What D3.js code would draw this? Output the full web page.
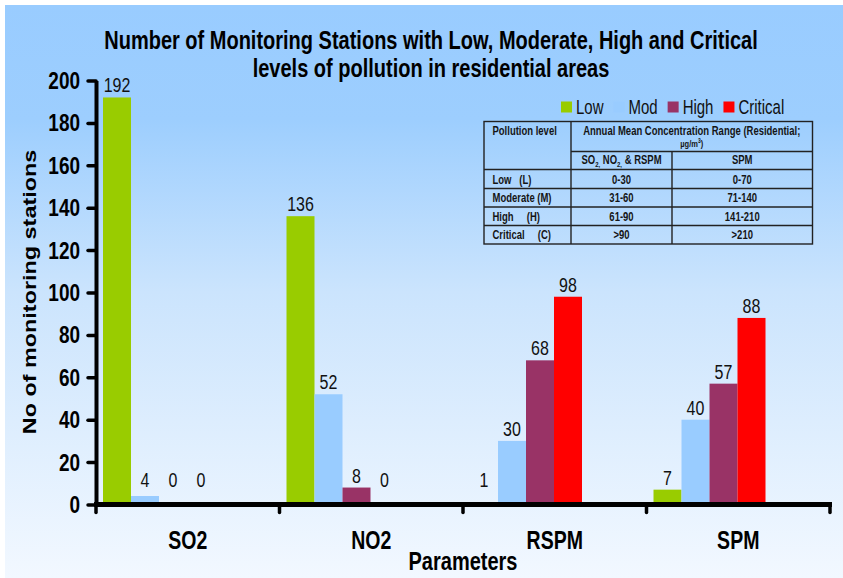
<!DOCTYPE html>
<html>
<head>
<meta charset="utf-8">
<script src="https://cdn.jsdelivr.net/npm/d3@7"></script>
<style>
  html, body { margin: 0; padding: 0; background: #fff; }
  svg { display: block; font-family: "Liberation Sans", Arial, sans-serif; }
</style>
</head>
<body>
<svg id="chart" width="843" height="578"></svg>
<script>
// chart data
const parameters = ["SO2", "NO2", "RSPM", "SPM"];
const levels = ["Low", "Mod", "High", "Critical"];
const lowValues = [192, 136, 1, 7];
const modValues = [4, 52, 30, 40];
const highValues = [0, 8, 68, 57];
const criticalValues = [0, 0, 98, 88];
const yTicks = [0, 20, 40, 60, 80, 100, 120, 140, 160, 180, 200];

// reference table
const tableLevels = ["Low   (L)", "Moderate (M)", "High     (H)", "Critical     (C)"];
const rangeGases = ["0-30", "31-60", "61-90", ">90"];
const rangeSpm = ["0-70", "71-140", "141-210", ">210"];

const colors = ["#99cc00", "#99ccff", "#993366", "#ff0000"];
const SY = 1.3; // the original picture is stretched vertically

const svg = d3.select("#chart");

// background
const defs = svg.append("defs");
const grad = defs.append("linearGradient")
  .attr("id", "bg")
  .attr("x1", 0).attr("y1", 0).attr("x2", 0).attr("y2", 1);
grad.append("stop").attr("offset", "0%").attr("stop-color", "#99ccff");
grad.append("stop").attr("offset", "20%").attr("stop-color", "#9dcefe");
grad.append("stop").attr("offset", "50%").attr("stop-color", "#cbe4fd");
grad.append("stop").attr("offset", "100%").attr("stop-color", "#f2f8ff");

svg.append("rect").attr("width", 843).attr("height", 578).attr("fill", "#fff");
svg.append("rect")
  .attr("x", 5).attr("y", 5)
  .attr("width", 838).attr("height", 573)
  .attr("fill", "url(#bg)");

function stretchedText(parent, x, y, str) {
  return parent.append("text")
    .attr("transform", `translate(${x},${y}) scale(1,${SY})`)
    .text(str);
}

// title
["Number of Monitoring Stations with Low, Moderate, High and Critical",
 "levels of pollution in residential areas"].forEach((line, i) => {
  stretchedText(svg, 431, 49 + i * 28, line)
    .attr("text-anchor", "middle")
    .style("font-size", "20px")
    .style("font-weight", "bold")
    .style("fill", "#000");
});

// scales
const plotLeft = 96, plotRight = 830;
const x0 = d3.scaleBand()
  .domain(parameters)
  .range([plotLeft, plotRight])
  .padding(0);

const x1 = d3.scaleBand()
  .domain(levels)
  .range([7, 119])
  .padding(0);

const y = d3.scaleLinear()
  .domain([0, 200])
  .range([504.5, 80.5]);

const rows = parameters.map((p, i) => ({
  param: p,
  values: [lowValues[i], modValues[i], highValues[i], criticalValues[i]]
}));

// bars
const groups = svg.selectAll("g.group")
  .data(rows)
  .join("g")
  .attr("class", "group")
  .attr("transform", d => `translate(${x0(d.param)},0)`);

groups.selectAll("rect")
  .data(d => d.values.map((v, j) => ({ key: levels[j], value: v })))
  .join("rect")
  .attr("x", d => x1(d.key))
  .attr("y", d => y(d.value))
  .attr("width", x1.bandwidth())
  .attr("height", d => y(0) - y(d.value))
  .attr("fill", (d, j) => colors[j]);

groups.selectAll("text.value")
  .data(d => d.values.map((v, j) => ({ key: levels[j], value: v })))
  .join("text")
  .attr("class", "value")
  .attr("text-anchor", "middle")
  .attr("transform", d => `translate(${x1(d.key) + x1.bandwidth() / 2},${Math.min(y(d.value) - 5, 487)}) scale(1,${SY})`)
  .style("font-size", "16px")
  .style("fill", "#111")
  .text(d => d.value);

// y axis
const yAxis = d3.axisLeft(y)
  .tickValues(yTicks)
  .tickSize(8)
  .tickSizeOuter(0)
  .tickPadding(8);

const yG = svg.append("g")
  .attr("transform", `translate(${plotLeft},0)`)
  .call(yAxis);
yG.select(".domain").attr("stroke", "#000").attr("stroke-width", 4);
yG.selectAll(".tick line").attr("stroke", "#000").attr("stroke-width", 3.5).attr("stroke-linecap", "round");
yG.selectAll(".tick text")
  .attr("transform", `scale(1,${SY})`)
  .style("font-size", "19px")
  .style("font-weight", "bold")
  .style("font-family", "'Liberation Sans', Arial, sans-serif")
  .style("fill", "#000");

// x axis line and tick marks at the category boundaries
const boundaries = parameters.map(p => x0(p)).concat([plotRight]);
svg.append("line")
  .attr("x1", plotLeft - 2).attr("x2", plotRight + 2)
  .attr("y1", y(0)).attr("y2", y(0))
  .attr("stroke", "#000").attr("stroke-width", 5);
svg.selectAll("line.xtick")
  .data(boundaries)
  .join("line")
  .attr("class", "xtick")
  .attr("x1", d => d).attr("x2", d => d)
  .attr("y1", y(0)).attr("y2", y(0) + 8)
  .attr("stroke", "#000").attr("stroke-width", 3.5)
  .attr("stroke-linecap", "round");

parameters.forEach(p => {
  stretchedText(svg, x0(p) + x0.bandwidth() / 2, 549, p)
    .attr("text-anchor", "middle")
    .style("font-size", "19.5px")
    .style("font-weight", "bold");
});

// axis titles
stretchedText(svg, 463, 570, "Parameters")
  .attr("text-anchor", "middle")
  .style("font-size", "20px")
  .style("font-weight", "bold");

svg.append("text")
  .attr("transform", `translate(36,292) scale(1,${SY}) rotate(-90)`)
  .attr("text-anchor", "middle")
  .style("font-size", "18px")
  .style("font-weight", "bold")
  .text("No of monitoring stations");

// legend
const legend = svg.append("g");
let lx = 561;
levels.forEach((lvl, i) => {
  legend.append("rect")
    .attr("x", lx).attr("y", 101.5)
    .attr("width", 11).attr("height", 11)
    .attr("fill", colors[i]);
  const t = stretchedText(legend, lx + 15, 113.5, lvl)
    .style("font-size", "15px")
    .style("fill", "#111");
  lx += 15 + t.node().getComputedTextLength() + 10;
});

// concentration table
const tbl = svg.append("g").style("font-size", "9.5px").style("font-weight", "bold").style("fill", "#151515");
const colX = [484, 571, 672, 812.5];
const rowY = [121.5, 151.5, 169.5, 188.5, 207, 225.5, 244];
const lineStyle = sel => sel.attr("stroke", "#222").attr("stroke-width", 1.4).attr("fill", "none");

tbl.append("rect")
  .attr("x", colX[0]).attr("y", rowY[0])
  .attr("width", colX[3] - colX[0]).attr("height", rowY[6] - rowY[0])
  .call(lineStyle);
tbl.append("line").attr("x1", colX[1]).attr("x2", colX[1]).attr("y1", rowY[0]).attr("y2", rowY[6]).call(lineStyle);
tbl.append("line").attr("x1", colX[2]).attr("x2", colX[2]).attr("y1", rowY[1]).attr("y2", rowY[6]).call(lineStyle);
tbl.append("line").attr("x1", colX[1]).attr("x2", colX[3]).attr("y1", rowY[1]).attr("y2", rowY[1]).call(lineStyle);
rowY.slice(2, 6).forEach(ry => {
  tbl.append("line").attr("x1", colX[0]).attr("x2", colX[3]).attr("y1", ry).attr("y2", ry).call(lineStyle);
});

stretchedText(tbl, 492.5, 135, "Pollution level");
stretchedText(tbl, (colX[1] + colX[3]) / 2, 134.5, "Annual Mean Concentration Range (Residential;")
  .attr("text-anchor", "middle");
const unit = stretchedText(tbl, (colX[1] + colX[3]) / 2, 146.5, "µg/m")
  .attr("text-anchor", "middle")
  .style("font-size", "7.5px");
unit.append("tspan").attr("dy", -3).style("font-size", "5px").text("3");
unit.append("tspan").attr("dy", 3).text(")");

const gases = stretchedText(tbl, (colX[1] + colX[2]) / 2, 164, "SO")
  .attr("text-anchor", "middle");
gases.append("tspan").attr("dy", 2).style("font-size", "6px").text("2,");
gases.append("tspan").attr("dy", -2).text(" NO");
gases.append("tspan").attr("dy", 2).style("font-size", "6px").text("2,");
gases.append("tspan").attr("dy", -2).text(" & RSPM");
stretchedText(tbl, (colX[2] + colX[3]) / 2, 164, "SPM").attr("text-anchor", "middle");

tableLevels.forEach((lvl, i) => {
  const cy = (rowY[i + 2] + rowY[i + 3]) / 2 + 4.5;
  stretchedText(tbl, 492.5, cy, lvl).style("white-space", "pre").attr("xml:space", "preserve");
  stretchedText(tbl, (colX[1] + colX[2]) / 2, cy, rangeGases[i]).attr("text-anchor", "middle");
  stretchedText(tbl, (colX[2] + colX[3]) / 2, cy, rangeSpm[i]).attr("text-anchor", "middle");
});
</script>
</body>
</html>
